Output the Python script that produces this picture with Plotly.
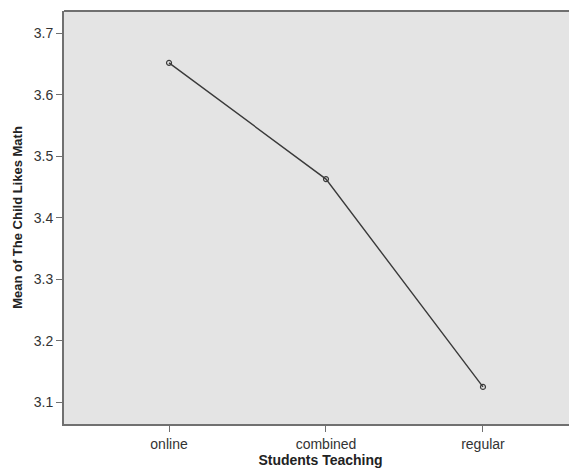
import plotly.graph_objects as go

categories = ["online", "combined", "regular"]
means = [3.652, 3.463, 3.125]
y_ticks = [3.1, 3.2, 3.3, 3.4, 3.5, 3.6, 3.7]

fig = go.Figure()
fig.add_trace(go.Scatter(
    x=categories, y=means, mode="lines+markers",
    line=dict(color="#3a3a3a", width=1.4),
    marker=dict(symbol="circle-open", size=5, color="#3a3a3a", line=dict(width=1.2)),
    showlegend=False, cliponaxis=False,
))

# page body has an 8px default margin, so the figure is sized to fit the window
font = dict(family="Liberation Sans, Arial, sans-serif", size=14, color="#333333")
fig.update_layout(
    width=569, height=461,
    margin=dict(l=56, r=0, t=3, b=45, autoexpand=False),
    paper_bgcolor="white",
    plot_bgcolor="#e4e4e4",
    font=font,
    shapes=[
        dict(type="line", xref="paper", yref="paper", x0=0, x1=1, y0=1, y1=1,
             line=dict(color="#707070", width=2)),
    ],
)
fig.update_xaxes(
    type="category", range=[-0.669, 2.599], automargin=False,
    showgrid=False, zeroline=False,
    showline=True, linecolor="#707070", linewidth=2,
    ticks="outside", ticklen=6, tickcolor="#707070", tickwidth=1,
    tickfont=dict(size=14, color="#333333"),
    title=dict(text="<b>Students Teaching</b>", font=dict(size=14, color="#222222"), standoff=1),
)
fig.update_yaxes(
    range=[3.0647, 3.7363], automargin=False,
    tickvals=y_ticks, ticktext=[f"{v:.1f}" for v in y_ticks],
    showgrid=False, zeroline=False,
    showline=True, linecolor="#707070", linewidth=2,
    ticks="outside", ticklen=6, tickcolor="#707070", tickwidth=1,
    tickfont=dict(size=14, color="#333333"),
    title=dict(text="<b>Mean of The Child Likes Math</b>", font=dict(size=13, color="#222222"), standoff=8),
)
fig.write_html("out.html")
